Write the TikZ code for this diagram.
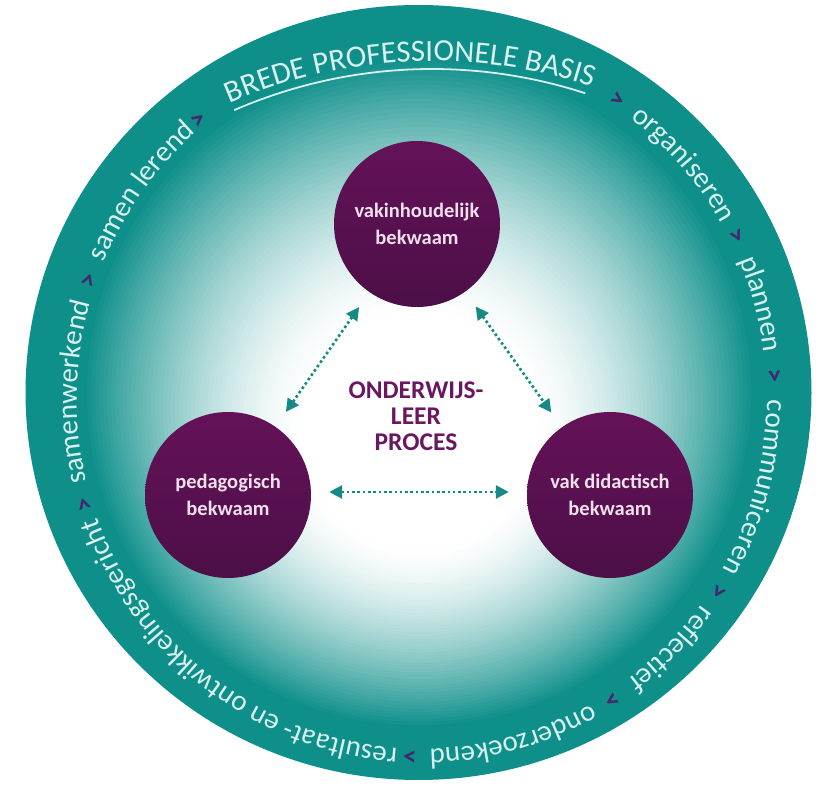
\documentclass[tikz,border=0pt]{standalone}
\usepackage{fontspec}
\setmainfont{Carlito}
\usetikzlibrary{arrows.meta,decorations.text}

\definecolor{ring}{HTML}{0E8F8A}
\definecolor{ringtxt}{HTML}{D8F0EE}
\definecolor{gtcol}{HTML}{42286E}
\definecolor{purA}{HTML}{641258}
\definecolor{purM}{HTML}{5E0D54}
\definecolor{purB}{HTML}{4C0F47}
\definecolor{cirtxt}{HTML}{F0E0EC}
\definecolor{centtxt}{HTML}{6B175F}
\definecolor{arrcol}{HTML}{178A86}

\newcommand\ringfont{\fontsize{29}{34}\selectfont}
\newcommand\titlefont{\fontsize{31}{36}\selectfont}
\newcommand\ringword[2]{%
  \pgfmathsetmacro\rwsa{#1+42}\pgfmathsetmacro\rwea{#1-42}%
  \path[decorate,decoration={text along path,text={|\ringfont|#2},
      text align=center,text color=ringtxt}]
    ([shift={(422,395)}]\rwsa:345 and 351)
      arc[start angle=\rwsa,end angle=\rwea,x radius=345,y radius=351];}

\begin{document}
\begin{tikzpicture}[x=1pt,y=1pt,
  gt/.style={text=gtcol,font=\bfseries\fontsize{27}{28}\selectfont,inner sep=0pt},
  bubble/.style={circle,minimum size=166pt,inner sep=0pt,
     top color=purA,middle color=purM,bottom color=purB,
     text=cirtxt,font=\bfseries\fontsize{20.5}{27}\selectfont,align=center},
  dotarrow/.style={arrcol,line width=2.6pt,dash pattern=on 2.6pt off 2.7pt,
     >={Triangle[length=13pt,width=13pt]},<->,shorten <=18pt,shorten >=18pt}]

\useasboundingbox (0,0) rectangle (828,793);
\fill[white] (0,0) rectangle (828,793);
\fill[ring] (418.5,400.5) ellipse [x radius=393,y radius=387.5];
% soft glow from the centre to the ring
\foreach \i in {0,...,56}{
  \pgfmathsetmacro\gr{336-4*\i}
  \pgfmathsetmacro\gp{100*max(0,(\gr-118)/218)^1.5}
  \pgfmathsetmacro\gy{400.5-(336-\gr)/218*38}
  \fill[ring!\gp!white] (419,\gy) circle[radius=\gr];
}

% title with underline
\path[decorate,decoration={text along path,
   text={|\titlefont|BREDE PROFESSIONELE BASIS},
   text align=center,text color=ringtxt}]
  ([shift={(432,228)}]122.55:504) arc[start angle=122.55,end angle=62.55,radius=504];
\draw[ringtxt,line width=1.8pt]
  ([shift={(432,228)}]113.5:496) arc[start angle=113.5,end angle=72,radius=496];

% ring words
\ringword{41.5}{organiseren}
\ringword{15.4}{plannen}
\ringword{-14.9}{communiceren}
\ringword{-44.9}{reflectief}
\ringword{-74.8}{onderzoekend}
\ringword{-127}{resultaat- en ontwikkelingsgericht}
\ringword{179}{samenwerkend}
\ringword{143.9}{samen lerend}

% separators
\foreach \a [count=\i] in {129.2,56.3,26.8,3.5,-32.7,-57.3,-91.95,-162.8,160.8}
  \node[gt,rotate=\a-90] (sep\i) at ([shift={(422,395)}]\a:352 and 358) {>};

% circles
\node[bubble] (vakin) at (417,569) {vakinhoudelijk\\bekwaam};
\node[bubble] (pedag) at (228,298) {pedagogisch\\bekwaam};
\node[bubble] (vakdid) at (610,298) {vak didactisch\\bekwaam};

\node[font=\bfseries\fontsize{25.5}{26}\selectfont,text=centtxt,align=center]
  (proc) at (416,377) {ONDERWIJS-\\LEER\\PROCES};

% connectors
\draw[dotarrow] (vakin) -- (pedag);
\draw[dotarrow] (vakin) -- (vakdid);
\draw[dotarrow] ([yshift=3pt]pedag.east) -- ([yshift=3pt]vakdid.west);
\end{tikzpicture}
\end{document}
